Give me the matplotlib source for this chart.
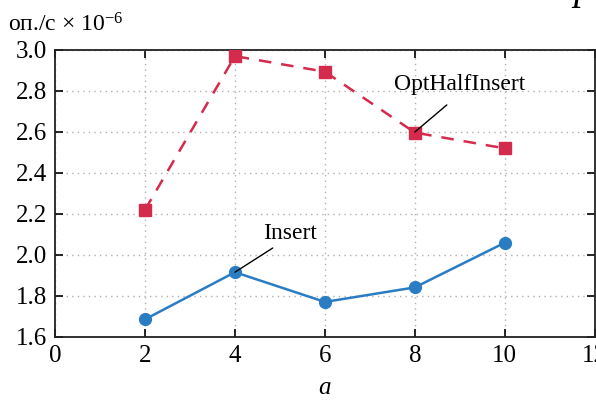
import matplotlib.pyplot as plt

plt.rcParams['font.family'] = ['Liberation Serif', 'DejaVu Serif']
plt.rcParams['mathtext.fontset'] = 'custom'
plt.rcParams['mathtext.rm'] = 'Liberation Serif'
plt.rcParams['mathtext.it'] = 'Liberation Serif:italic'

# данные
a_vals = [2, 4, 6, 8, 10]
insert_vals = [1.686, 1.916, 1.771, 1.842, 2.060]
opt_vals = [2.22, 2.97, 2.894, 2.597, 2.52]
x_ticks = [0, 2, 4, 6, 8, 10, 12]
y_ticks = [1.6, 1.8, 2.0, 2.2, 2.4, 2.6, 2.8, 3.0]

blue = '#2a7cc3'
red = '#d42a4c'

fig = plt.figure(figsize=(5.96, 4.03), dpi=100)
ax = fig.add_axes([0.0923, 0.1638, 0.9057, 0.7122])

ax.plot(a_vals, insert_vals, color=blue, lw=1.8, marker='o', ms=8.5, zorder=3)
ax.plot(a_vals, opt_vals, color=red, lw=1.8, ls=(0, (5, 4)), marker='s', ms=8.5, zorder=3)

ax.set_xlim(0, 12)
ax.set_ylim(1.6, 3.0)
ax.set_xticks(x_ticks)
ax.set_yticks(y_ticks)
ax.set_yticklabels(['%.1f' % v for v in y_ticks])
ax.grid(True, color='#b0b0b0', ls=(0, (1, 3)), lw=1)
ax.tick_params(direction='in', top=True, right=True, labeltop=False, labelright=False,
               length=6, width=1.2, labelsize=18, pad=6)
for s in ax.spines.values():
    s.set_linewidth(1.3)
    s.set_color('#222222')

ax.set_xlabel('$\\mathit{a}$', fontsize=18, labelpad=7)
fig.text(0.013, 1 - 32 / 403, 'оп./с × 10$^{-6}$', fontsize=17, ha='left', va='baseline')

# подписи
ax.text(9.0, 2.83, 'OptHalfInsert', fontsize=17, ha='center', va='center')
ax.annotate('', xy=(8, 2.6), xytext=(8.71, 2.732),
            arrowprops=dict(arrowstyle='-', color='black', lw=1, shrinkA=0, shrinkB=0))
ax.text(5.22, 2.105, 'Insert', fontsize=17, ha='center', va='center')
ax.annotate('', xy=(4, 1.916), xytext=(4.84, 2.034),
            arrowprops=dict(arrowstyle='-', color='black', lw=1, shrinkA=0, shrinkB=0))

# обрезанная буква в правом верхнем углу
fig.text(0.978, 1 + 1 / 403, 'р', fontsize=28, style='italic', ha='center', va='baseline')

fig.savefig('out.png', dpi=100)
